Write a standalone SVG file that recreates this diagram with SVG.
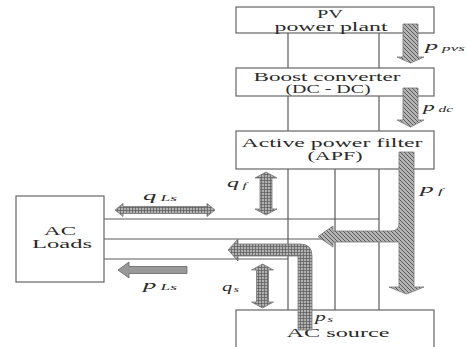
<svg xmlns="http://www.w3.org/2000/svg" width="466" height="347" viewBox="0 0 466 347">
<style>
.box{fill:#fff;stroke:#666;stroke-width:1.2}
.ln{stroke:#5a5a5a;stroke-width:1.2;fill:none}
.t{font-family:"Liberation Serif","Times New Roman",serif;font-size:12px;fill:#2a2a2a;text-anchor:middle}
.lb{font-family:"Liberation Serif","Times New Roman",serif;font-size:13px;font-style:italic;fill:#2a2a2a}
.sub{font-size:8.5px}
.hatch{fill:url(#diag);stroke:#777;stroke-width:0.8}
.grid{fill:url(#grid);stroke:#777;stroke-width:0.8}
.solid{fill:#999;stroke:#666;stroke-width:0.8}
</style>
<defs>
<pattern id="diag" width="4" height="4" patternUnits="userSpaceOnUse">
<rect width="4" height="4" fill="#b4b4b4"/>
<path d="M0,0 L4,4 M-1,3 L1,5 M3,-1 L5,1" stroke="#5a5a5a" stroke-width="1"/>
</pattern>
<pattern id="grid" width="3" height="3" patternUnits="userSpaceOnUse">
<rect width="3" height="3" fill="#b0b0b0"/>
<path d="M0,0.5 H3 M0.5,0 V3" stroke="#5a5a5a" stroke-width="0.7"/>
</pattern>
</defs>

<g id="connectors">
<line class="ln" x1="288" y1="33" x2="288" y2="68"/>
<line class="ln" x1="379" y1="33" x2="379" y2="68"/>
<line class="ln" x1="288" y1="96" x2="288" y2="131"/>
<line class="ln" x1="379" y1="96" x2="379" y2="131"/>
<line class="ln" x1="288" y1="169" x2="288" y2="310"/>
<line class="ln" x1="335" y1="169" x2="335" y2="310"/>
<line class="ln" x1="379" y1="169" x2="379" y2="310"/>
<line class="ln" x1="104" y1="219" x2="379" y2="219"/>
<line class="ln" x1="104" y1="239" x2="335" y2="239"/>
<line class="ln" x1="104" y1="259" x2="288" y2="259"/>
</g>

<g id="pv">
<rect class="box" x="236" y="7" width="198" height="26"/>
<text class="t" x="330" y="17.5" textLength="26" lengthAdjust="spacingAndGlyphs">PV</text>
<text class="t" x="331" y="30.5" textLength="113" lengthAdjust="spacingAndGlyphs">power plant</text>
</g>
<g id="boost">
<rect class="box" x="236" y="68" width="198" height="28"/>
<text class="t" x="327" y="80.5" textLength="147" lengthAdjust="spacingAndGlyphs">Boost converter</text>
<text class="t" x="328" y="93" textLength="85" lengthAdjust="spacingAndGlyphs">(DC - DC)</text>
</g>
<g id="apf">
<rect class="box" x="236" y="131" width="198" height="38"/>
<text class="t" x="332" y="147" textLength="181" lengthAdjust="spacingAndGlyphs">Active power filter</text>
<text class="t" x="335" y="160" textLength="55" lengthAdjust="spacingAndGlyphs">(APF)</text>
</g>
<g id="acsource">
<rect class="box" x="236" y="310" width="198" height="45"/>
<text class="t" x="338" y="337" textLength="103" lengthAdjust="spacingAndGlyphs">AC source</text>
</g>
<g id="acloads">
<rect class="box" x="16" y="196" width="88" height="86"/>
<text class="t" x="60" y="235" textLength="32" lengthAdjust="spacingAndGlyphs">AC</text>
<text class="t" x="62" y="248" textLength="60" lengthAdjust="spacingAndGlyphs">Loads</text>
</g>

<g id="flows">
<path class="hatch" d="M403,24 H418 V57 H424 L410.5,63 L397,57 H403 Z"/>
<path class="hatch" d="M403,88 H418 V120 H424 L410.5,127 L397,120 H403 Z"/>
<path class="hatch" d="M399,152 H414 V287 H424 L406.5,294 L389,287 H399 V242 H333 V247 L318,236.5 L333,226 V231 H391 Q399,231 399,223 Z"/>
<path class="grid" d="M298,330 V256 H238 V261 L228,250 L238,239 V244 H300 Q312,244 312,256 V330 Z"/>
<path class="solid" d="M187,266.5 V273.5 H129 V278 L118,270 L129,262 V266.5 Z"/>
<path class="grid" d="M115,210 L123,203.5 V206.5 H207 V203.5 L215,210 L207,216.5 V213.5 H123 V216.5 Z"/>
<path class="grid" d="M266,172 L277,178 H272 V209 H277 L266,215 L255,209 H260 V178 H255 Z"/>
<path class="grid" d="M262.5,264 L273.5,270 H268.5 V302 H273.5 L262.5,308 L251.5,302 H256.5 V270 H251.5 Z"/>
</g>

<g id="labels">
<text class="lb" x="425" y="50" textLength="40" lengthAdjust="spacingAndGlyphs">p<tspan class="sub" dx="2" dy="1">pvs</tspan></text>
<text class="lb" x="423" y="111" textLength="30" lengthAdjust="spacingAndGlyphs">p<tspan class="sub" dx="2" dy="1">dc</tspan></text>
<text class="lb" x="227" y="187" textLength="20" lengthAdjust="spacingAndGlyphs">q<tspan class="sub" dx="2" dy="1">f</tspan></text>
<text class="lb" x="420" y="193" textLength="23" lengthAdjust="spacingAndGlyphs">p<tspan class="sub" dx="2" dy="1">f</tspan></text>
<text class="lb" x="143" y="200" textLength="34" lengthAdjust="spacingAndGlyphs">q<tspan class="sub" dx="2" dy="1">Ls</tspan></text>
<text class="lb" x="143" y="289" textLength="34" lengthAdjust="spacingAndGlyphs">p<tspan class="sub" dx="2" dy="1">Ls</tspan></text>
<text class="lb" x="222" y="291" textLength="17" lengthAdjust="spacingAndGlyphs">q<tspan class="sub" dx="1" dy="1">s</tspan></text>
<text class="lb" x="315" y="321" textLength="18" lengthAdjust="spacingAndGlyphs">p<tspan class="sub" dx="1" dy="1">s</tspan></text>
</g>
</svg>
